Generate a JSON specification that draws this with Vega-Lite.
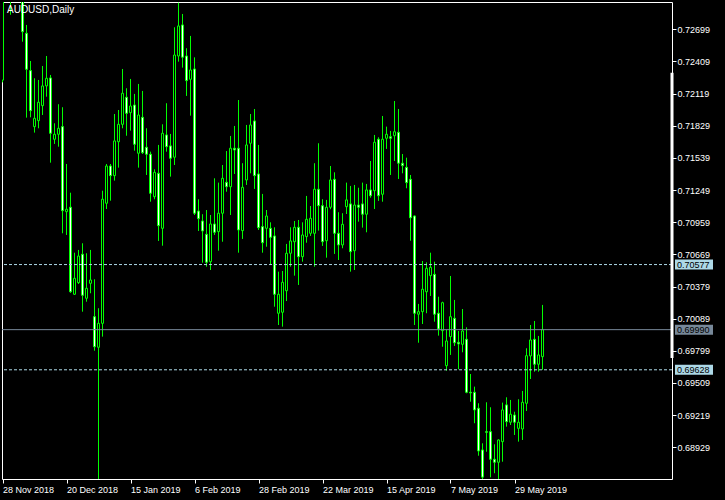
{
"$schema": "https://vega.github.io/schema/vega-lite/v6.json",
"width": 670, "height": 477,
"autosize": {"type": "none"},
"padding": {"left": 2, "top": 2, "right": 53, "bottom": 21},
"background": "#000000",
"config": {"view": {"stroke": "#ffffff", "strokeWidth": 1, "fill": "#000000"}, "font": "Liberation Sans"},
"title": {"text": "AUDUSD,Daily", "anchor": "start", "frame": "group", "orient": "top", "offset": 0, "dx": 5, "dy": 21, "baseline": "alphabetic", "color": "#ffffff", "font": "Liberation Sans", "fontSize": 10, "fontWeight": "normal"},
"datasets": {
"candles": [
{"i":0,"date":"2018-11-28","open":0.7224,"high":0.7335,"low":0.7222,"close":0.7316},
{"i":1,"date":"2018-11-29","open":0.7316,"high":0.7340,"low":0.7302,"close":0.7318},
{"i":2,"date":"2018-11-30","open":0.7318,"high":0.7335,"low":0.7283,"close":0.7312},
{"i":3,"date":"2018-12-03","open":0.7312,"high":0.7394,"low":0.7305,"close":0.7355},
{"i":4,"date":"2018-12-04","open":0.7355,"high":0.7370,"low":0.7300,"close":0.7335},
{"i":5,"date":"2018-12-05","open":0.7335,"high":0.7340,"low":0.72587,"close":0.72677},
{"i":6,"date":"2018-12-06","open":0.72663,"high":0.72738,"low":0.71902,"close":0.72338},
{"i":7,"date":"2018-12-07","open":0.72326,"high":0.72413,"low":0.71905,"close":0.71965},
{"i":8,"date":"2018-12-10","open":0.71821,"high":0.72257,"low":0.71767,"close":0.71896},
{"i":9,"date":"2018-12-11","open":0.71875,"high":0.72242,"low":0.71806,"close":0.72041},
{"i":10,"date":"2018-12-12","open":0.72010,"high":0.72368,"low":0.71926,"close":0.72188},
{"i":11,"date":"2018-12-13","open":0.72188,"high":0.72458,"low":0.72091,"close":0.72257},
{"i":12,"date":"2018-12-14","open":0.72260,"high":0.72287,"low":0.71496,"close":0.71761},
{"i":13,"date":"2018-12-17","open":0.71707,"high":0.71851,"low":0.71665,"close":0.71752},
{"i":14,"date":"2018-12-18","open":0.71752,"high":0.72023,"low":0.71640,"close":0.71806},
{"i":15,"date":"2018-12-19","open":0.71821,"high":0.71996,"low":0.70859,"close":0.71063},
{"i":16,"date":"2018-12-20","open":0.71054,"high":0.71484,"low":0.70844,"close":0.71076},
{"i":17,"date":"2018-12-21","open":0.71094,"high":0.71225,"low":0.70321,"close":0.70332},
{"i":18,"date":"2018-12-24","open":0.70309,"high":0.70684,"low":0.70303,"close":0.70453},
{"i":19,"date":"2018-12-26","open":0.70414,"high":0.70709,"low":0.70402,"close":0.70654},
{"i":20,"date":"2018-12-27","open":0.70670,"high":0.70769,"low":0.70152,"close":0.70300},
{"i":21,"date":"2018-12-28","open":0.70273,"high":0.70679,"low":0.70242,"close":0.70363},
{"i":22,"date":"2018-12-31","open":0.70408,"high":0.70709,"low":0.70318,"close":0.70438},
{"i":23,"date":"2019-01-02","open":0.70107,"high":0.70444,"low":0.69800,"close":0.69836},
{"i":24,"date":"2019-01-03","open":0.69831,"high":0.70183,"low":0.67160,"close":0.70047},
{"i":25,"date":"2019-01-04","open":0.70047,"high":0.71243,"low":0.69927,"close":0.71166},
{"i":26,"date":"2019-01-07","open":0.71130,"high":0.71484,"low":0.71078,"close":0.71466},
{"i":27,"date":"2019-01-08","open":0.71466,"high":0.71484,"low":0.71153,"close":0.71379},
{"i":28,"date":"2019-01-09","open":0.71379,"high":0.71935,"low":0.71334,"close":0.71692},
{"i":29,"date":"2019-01-10","open":0.71685,"high":0.71971,"low":0.71451,"close":0.71842},
{"i":30,"date":"2019-01-11","open":0.71842,"high":0.72341,"low":0.71806,"close":0.72122},
{"i":31,"date":"2019-01-14","open":0.72086,"high":0.72167,"low":0.71739,"close":0.71941},
{"i":32,"date":"2019-01-15","open":0.71947,"high":0.72251,"low":0.71785,"close":0.72007},
{"i":33,"date":"2019-01-16","open":0.72016,"high":0.72116,"low":0.71604,"close":0.71662},
{"i":34,"date":"2019-01-17","open":0.71581,"high":0.72206,"low":0.71451,"close":0.71926},
{"i":35,"date":"2019-01-18","open":0.71905,"high":0.72143,"low":0.71574,"close":0.71586},
{"i":36,"date":"2019-01-21","open":0.71635,"high":0.71806,"low":0.71385,"close":0.71572},
{"i":37,"date":"2019-01-22","open":0.71572,"high":0.71595,"low":0.71144,"close":0.71220},
{"i":38,"date":"2019-01-23","open":0.71189,"high":0.71436,"low":0.71166,"close":0.71409},
{"i":39,"date":"2019-01-24","open":0.71400,"high":0.71656,"low":0.70790,"close":0.70928},
{"i":40,"date":"2019-01-25","open":0.70904,"high":0.71842,"low":0.70747,"close":0.71761},
{"i":41,"date":"2019-01-28","open":0.71746,"high":0.72032,"low":0.71595,"close":0.71640},
{"i":42,"date":"2019-01-29","open":0.71647,"high":0.71755,"low":0.71370,"close":0.71536},
{"i":43,"date":"2019-01-30","open":0.71545,"high":0.72717,"low":0.71475,"close":0.72467},
{"i":44,"date":"2019-01-31","open":0.72458,"high":0.72939,"low":0.72407,"close":0.72729},
{"i":45,"date":"2019-02-01","open":0.72738,"high":0.72837,"low":0.72353,"close":0.72447},
{"i":46,"date":"2019-02-04","open":0.72458,"high":0.72528,"low":0.72098,"close":0.72236},
{"i":47,"date":"2019-02-05","open":0.72248,"high":0.72639,"low":0.71920,"close":0.72332},
{"i":48,"date":"2019-02-06","open":0.72341,"high":0.72446,"low":0.71024,"close":0.71040},
{"i":49,"date":"2019-02-07","open":0.71060,"high":0.71166,"low":0.70880,"close":0.70991},
{"i":50,"date":"2019-02-08","open":0.70970,"high":0.71031,"low":0.70594,"close":0.70880},
{"i":51,"date":"2019-02-11","open":0.70850,"high":0.71069,"low":0.70558,"close":0.70598},
{"i":52,"date":"2019-02-12","open":0.70603,"high":0.71024,"low":0.70528,"close":0.70943},
{"i":53,"date":"2019-02-13","open":0.70943,"high":0.71355,"low":0.70844,"close":0.70868},
{"i":54,"date":"2019-02-14","open":0.70874,"high":0.71316,"low":0.70702,"close":0.71040},
{"i":55,"date":"2019-02-15","open":0.71040,"high":0.71475,"low":0.70783,"close":0.71355},
{"i":56,"date":"2019-02-18","open":0.71319,"high":0.71601,"low":0.71234,"close":0.71279},
{"i":57,"date":"2019-02-19","open":0.71279,"high":0.71737,"low":0.71024,"close":0.71626},
{"i":58,"date":"2019-02-20","open":0.71626,"high":0.71827,"low":0.71394,"close":0.71610},
{"i":59,"date":"2019-02-21","open":0.71626,"high":0.72061,"low":0.70684,"close":0.70889},
{"i":60,"date":"2019-02-22","open":0.70883,"high":0.71491,"low":0.70808,"close":0.71274},
{"i":61,"date":"2019-02-25","open":0.71340,"high":0.71836,"low":0.71295,"close":0.71656},
{"i":62,"date":"2019-02-26","open":0.71671,"high":0.71935,"low":0.71400,"close":0.71836},
{"i":63,"date":"2019-02-27","open":0.71872,"high":0.71980,"low":0.71259,"close":0.71379},
{"i":64,"date":"2019-02-28","open":0.71394,"high":0.71656,"low":0.70889,"close":0.70910},
{"i":65,"date":"2019-03-01","open":0.70919,"high":0.71214,"low":0.70684,"close":0.70774},
{"i":66,"date":"2019-03-04","open":0.70904,"high":0.71069,"low":0.70738,"close":0.71015},
{"i":67,"date":"2019-03-05","open":0.70904,"high":0.70958,"low":0.70573,"close":0.70823},
{"i":68,"date":"2019-03-06","open":0.70835,"high":0.70913,"low":0.70197,"close":0.70309},
{"i":69,"date":"2019-03-07","open":0.70138,"high":0.70513,"low":0.70032,"close":0.70309},
{"i":70,"date":"2019-03-08","open":0.70147,"high":0.70519,"low":0.70017,"close":0.70417},
{"i":71,"date":"2019-03-11","open":0.70341,"high":0.70763,"low":0.70248,"close":0.70679},
{"i":72,"date":"2019-03-12","open":0.70679,"high":0.70913,"low":0.70558,"close":0.70790},
{"i":73,"date":"2019-03-13","open":0.70783,"high":0.70970,"low":0.70477,"close":0.70913},
{"i":74,"date":"2019-03-14","open":0.70913,"high":0.70979,"low":0.70393,"close":0.70648},
{"i":75,"date":"2019-03-15","open":0.70648,"high":0.70958,"low":0.70603,"close":0.70844},
{"i":76,"date":"2019-03-18","open":0.70829,"high":0.71196,"low":0.70774,"close":0.70985},
{"i":77,"date":"2019-03-19","open":0.70859,"high":0.71105,"low":0.70835,"close":0.70994},
{"i":78,"date":"2019-03-20","open":0.70859,"high":0.71491,"low":0.70558,"close":0.71256},
{"i":79,"date":"2019-03-21","open":0.71256,"high":0.71671,"low":0.70883,"close":0.71108},
{"i":80,"date":"2019-03-22","open":0.71108,"high":0.71166,"low":0.70745,"close":0.70783},
{"i":81,"date":"2019-03-25","open":0.70792,"high":0.71160,"low":0.70639,"close":0.71094},
{"i":82,"date":"2019-03-26","open":0.71094,"high":0.71466,"low":0.71076,"close":0.71340},
{"i":83,"date":"2019-03-27","open":0.71346,"high":0.71409,"low":0.70673,"close":0.70859},
{"i":84,"date":"2019-03-28","open":0.70859,"high":0.71049,"low":0.70618,"close":0.70754},
{"i":85,"date":"2019-03-29","open":0.70754,"high":0.71040,"low":0.70724,"close":0.70940},
{"i":86,"date":"2019-04-01","open":0.71099,"high":0.71316,"low":0.71033,"close":0.71160},
{"i":87,"date":"2019-04-02","open":0.71124,"high":0.71286,"low":0.70513,"close":0.70693},
{"i":88,"date":"2019-04-03","open":0.70702,"high":0.71295,"low":0.70528,"close":0.71114},
{"i":89,"date":"2019-04-04","open":0.71114,"high":0.71270,"low":0.70964,"close":0.71094},
{"i":90,"date":"2019-04-05","open":0.71124,"high":0.71316,"low":0.70910,"close":0.71031},
{"i":91,"date":"2019-04-08","open":0.71031,"high":0.71304,"low":0.70868,"close":0.71250},
{"i":92,"date":"2019-04-09","open":0.71250,"high":0.71511,"low":0.71180,"close":0.71198},
{"i":93,"date":"2019-04-10","open":0.71243,"high":0.71746,"low":0.71078,"close":0.71680},
{"i":94,"date":"2019-04-11","open":0.71707,"high":0.71725,"low":0.71151,"close":0.71198},
{"i":95,"date":"2019-04-12","open":0.71211,"high":0.71917,"low":0.71144,"close":0.71707},
{"i":96,"date":"2019-04-15","open":0.71716,"high":0.71821,"low":0.71620,"close":0.71752},
{"i":97,"date":"2019-04-16","open":0.71730,"high":0.71782,"low":0.71385,"close":0.71716},
{"i":98,"date":"2019-04-17","open":0.71739,"high":0.72052,"low":0.71511,"close":0.71775},
{"i":99,"date":"2019-04-18","open":0.71770,"high":0.71980,"low":0.71349,"close":0.71491},
{"i":100,"date":"2019-04-19","open":0.71491,"high":0.71574,"low":0.71400,"close":0.71469},
{"i":101,"date":"2019-04-22","open":0.71454,"high":0.71541,"low":0.71265,"close":0.71316},
{"i":102,"date":"2019-04-23","open":0.71346,"high":0.71385,"low":0.70792,"close":0.70999},
{"i":103,"date":"2019-04-24","open":0.71015,"high":0.71020,"low":0.70032,"close":0.70138},
{"i":104,"date":"2019-04-25","open":0.70129,"high":0.70222,"low":0.69872,"close":0.70152},
{"i":105,"date":"2019-04-26","open":0.70152,"high":0.70609,"low":0.70041,"close":0.70354},
{"i":106,"date":"2019-04-29","open":0.70332,"high":0.70597,"low":0.70138,"close":0.70543},
{"i":107,"date":"2019-04-30","open":0.70477,"high":0.70684,"low":0.70294,"close":0.70552},
{"i":108,"date":"2019-05-01","open":0.70489,"high":0.70603,"low":0.70062,"close":0.70129},
{"i":109,"date":"2019-05-02","open":0.70138,"high":0.70287,"low":0.69936,"close":0.69996},
{"i":110,"date":"2019-05-03","open":0.69981,"high":0.70242,"low":0.69836,"close":0.70233},
{"i":111,"date":"2019-05-06","open":0.69665,"high":0.69987,"low":0.69620,"close":0.69888},
{"i":112,"date":"2019-05-07","open":0.69927,"high":0.70474,"low":0.69762,"close":0.70107},
{"i":113,"date":"2019-05-08","open":0.70092,"high":0.70258,"low":0.69843,"close":0.69872},
{"i":114,"date":"2019-05-09","open":0.69876,"high":0.69978,"low":0.69633,"close":0.69861},
{"i":115,"date":"2019-05-10","open":0.69858,"high":0.70176,"low":0.69786,"close":0.69978},
{"i":116,"date":"2019-05-13","open":0.69903,"high":0.70011,"low":0.69416,"close":0.69425},
{"i":117,"date":"2019-05-14","open":0.69425,"high":0.69590,"low":0.69340,"close":0.69419},
{"i":118,"date":"2019-05-15","open":0.69425,"high":0.69476,"low":0.69146,"close":0.69266},
{"i":119,"date":"2019-05-16","open":0.69281,"high":0.69326,"low":0.68853,"close":0.68896},
{"i":120,"date":"2019-05-17","open":0.68905,"high":0.68965,"low":0.68620,"close":0.68660},
{"i":121,"date":"2019-05-20","open":0.69070,"high":0.69335,"low":0.68889,"close":0.69064},
{"i":122,"date":"2019-05-21","open":0.69070,"high":0.69290,"low":0.68658,"close":0.68821},
{"i":123,"date":"2019-05-22","open":0.68821,"high":0.68956,"low":0.68695,"close":0.68794},
{"i":124,"date":"2019-05-23","open":0.68794,"high":0.69001,"low":0.68620,"close":0.68995},
{"i":125,"date":"2019-05-24","open":0.68980,"high":0.69332,"low":0.68799,"close":0.69266},
{"i":126,"date":"2019-05-27","open":0.69311,"high":0.69380,"low":0.69115,"close":0.69160},
{"i":127,"date":"2019-05-28","open":0.69155,"high":0.69356,"low":0.69130,"close":0.69227},
{"i":128,"date":"2019-05-29","open":0.69220,"high":0.69250,"low":0.69040,"close":0.69155},
{"i":129,"date":"2019-05-30","open":0.69100,"high":0.69362,"low":0.68980,"close":0.69155},
{"i":130,"date":"2019-05-31","open":0.69094,"high":0.69437,"low":0.68995,"close":0.69335},
{"i":131,"date":"2019-06-03","open":0.69326,"high":0.69822,"low":0.69257,"close":0.69755},
{"i":132,"date":"2019-06-04","open":0.69753,"high":0.70032,"low":0.69545,"close":0.69897},
{"i":133,"date":"2019-06-05","open":0.69903,"high":0.70068,"low":0.69611,"close":0.69678},
{"i":134,"date":"2019-06-06","open":0.69678,"high":0.69933,"low":0.69611,"close":0.69762},
{"i":135,"date":"2019-06-07","open":0.69746,"high":0.70213,"low":0.69628,"close":0.69990}
],
"levels": [
{"price": 0.70577, "kind": "line"},
{"price": 0.69990, "kind": "bid"},
{"price": 0.69628, "kind": "line"}
]
},
"layer": [
{
"data": {"name": "candles"},
"mark": {"type": "rule", "color": "#00ff00", "strokeWidth": 1, "clip": true},
"encoding": {
"x": {"field": "i", "type": "quantitative",
"scale": {"domain": [-0.125, 167.375], "nice": false, "zero": false, "padding": 0},
"axis": {"orient": "bottom", "values": [0,16,32,48,64,80,96,112,128],
"labelExpr": "['28 Nov 2018','20 Dec 2018','15 Jan 2019','6 Feb 2019','28 Feb 2019','22 Mar 2019','15 Apr 2019','7 May 2019','29 May 2019'][round(datum.value/16)]",
"domain": false, "grid": false, "tickColor": "#ffffff", "tickSize": 4, "tickWidth": 1, "tickCount": 30,
"labelColor": "#ffffff", "labelFont": "Liberation Sans", "labelFontSize": 9, "labelAlign": "left", "labelBaseline": "top",
"labelPadding": 2, "labelFlush": false, "labelOverlap": false, "title": null}},
"y": {"field": "low", "type": "quantitative",
"scale": {"domain": [0.68643, 0.72945], "nice": false, "zero": false, "padding": 0},
"axis": {"orient": "right", "values": [0.68929,0.69219,0.69509,0.69799,0.70089,0.70379,0.70669,0.70959,0.71249,0.71539,0.71829,0.72119,0.72409,0.72699],
"format": ".5f", "domain": false, "grid": false, "tickColor": "#ffffff", "tickSize": 4, "tickWidth": 1, "tickCount": 30,
"labelColor": "#ffffff", "labelFont": "Liberation Sans", "labelFontSize": 9, "labelPadding": 1,
"labelFlush": false, "labelOverlap": false, "title": null}},
"y2": {"field": "high"}
}
},
{
"data": {"name": "candles"},
"mark": {"type": "bar", "size": 2, "stroke": "#00ff00", "strokeWidth": 1, "clip": true},
"encoding": {
"x": {"field": "i", "type": "quantitative"},
"y": {"field": "open", "type": "quantitative"},
"y2": {"field": "close"},
"fill": {"condition": {"test": "datum.close >= datum.open", "value": "#000000"}, "value": "#ffffff"}
}
},
{
"data": {"name": "levels"},
"mark": {"type": "rule", "strokeWidth": 1},
"encoding": {
"y": {"field": "price", "type": "quantitative"},
"color": {"condition": {"test": "datum.kind == 'bid'", "value": "#778899"}, "value": "#add8e6"},
"strokeDash": {"condition": {"test": "datum.kind == 'bid'", "value": [1, 0]}, "value": [3, 2]}
}
},
{
"data": {"values": [{}]},
"mark": {"type": "rule", "color": "#ffffff", "strokeWidth": 3},
"encoding": {
"x": {"datum": 167.375, "type": "quantitative"},
"y": {"datum": 0.72308, "type": "quantitative"},
"y2": {"datum": 0.69735}
}
},
{
"data": {"name": "levels"},
"mark": {"type": "point", "shape": "M0.15,-0.25H2.05V0.25H0.15Z", "size": 1600, "filled": true, "opacity": 1, "strokeWidth": 0},
"encoding": {
"x": {"datum": 167.375, "type": "quantitative"},
"y": {"field": "price", "type": "quantitative"},
"fill": {"condition": {"test": "datum.kind == 'bid'", "value": "#778899"}, "value": "#add8e6"}
}
},
{
"data": {"name": "levels"},
"mark": {"type": "text", "align": "left", "baseline": "middle", "dx": 5, "font": "Liberation Sans", "fontSize": 9, "color": "#000000"},
"encoding": {
"x": {"datum": 167.375, "type": "quantitative"},
"y": {"field": "price", "type": "quantitative"},
"text": {"field": "price", "type": "quantitative", "format": ".5f"}
}
}
]
}
